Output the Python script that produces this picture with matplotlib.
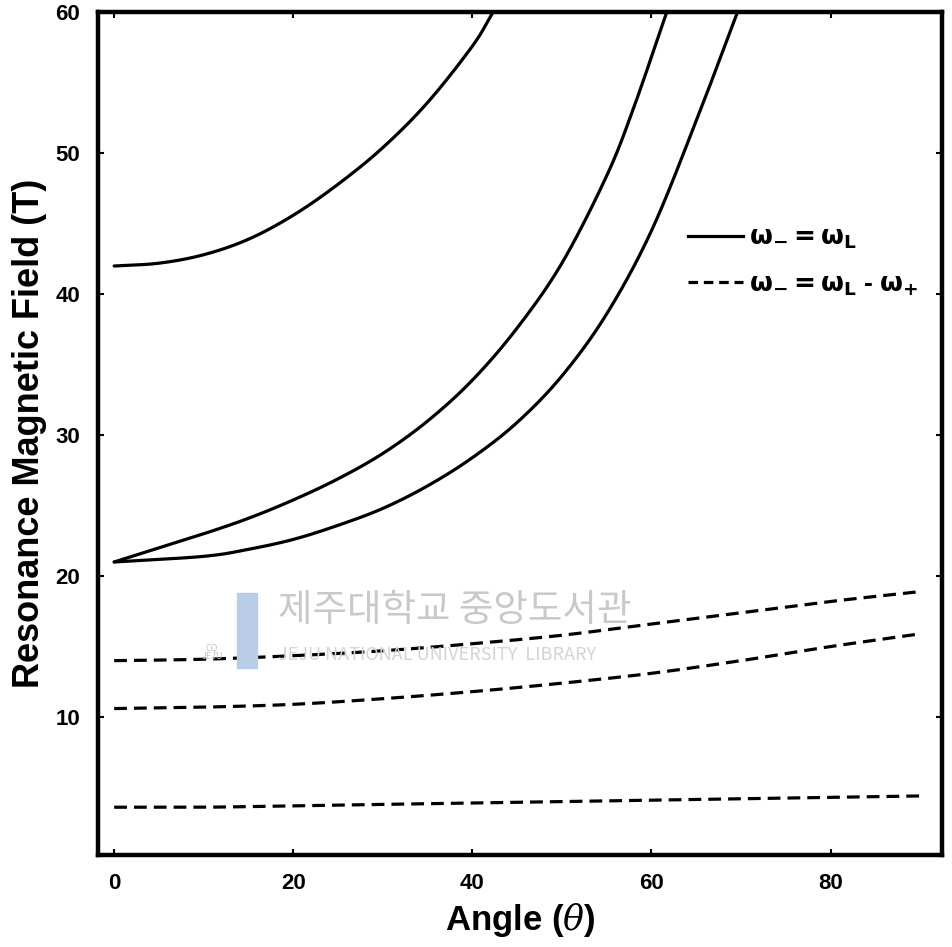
import numpy as np
import matplotlib
matplotlib.use('Agg')
import matplotlib.pyplot as plt
from matplotlib.lines import Line2D

plt.rcParams['font.family'] = ['Liberation Sans', 'DejaVu Sans']
plt.rcParams['font.weight'] = 'bold'
plt.rcParams['mathtext.fontset'] = 'custom'
plt.rcParams['mathtext.rm'] = 'DejaVu Sans:bold'
plt.rcParams['mathtext.bf'] = 'DejaVu Sans:bold'
plt.rcParams['mathtext.it'] = 'DejaVu Serif:italic:normal'

# resonance field (T) against angle (deg)
theta_a = [0, 5, 10, 15, 20, 25, 30, 35, 40, 42.3]
field_a = [42.0, 42.2, 42.8, 43.9, 45.6, 47.8, 50.4, 53.6, 57.6, 60.0]

theta_b = [0, 5, 10, 15, 20, 25, 30, 35, 40, 45, 50, 55, 58, 61.7]
field_b = [21.0, 22.0, 23.0, 24.1, 25.4, 26.9, 28.7, 31.0, 33.9, 37.6, 42.2,
           48.4, 53.2, 60.0]

theta_c = [0, 10, 15, 20, 25, 30, 35, 40, 45, 50, 55, 60, 65, 69.6]
field_c = [21.0, 21.4, 21.9, 22.6, 23.6, 24.8, 26.4, 28.4, 30.9, 34.2, 38.6,
           44.5, 52.3, 60.0]

theta_d = [0, 10, 20, 30, 40, 50, 60, 70, 80, 90]
field_d1 = [14.0, 14.1, 14.35, 14.7, 15.2, 15.8, 16.6, 17.4, 18.2, 18.9]
field_d2 = [10.6, 10.7, 10.9, 11.3, 11.8, 12.4, 13.1, 14.0, 15.0, 15.9]
field_d3 = [3.6, 3.6, 3.7, 3.8, 3.9, 4.0, 4.1, 4.2, 4.3, 4.4]

xticks = [0, 20, 40, 60, 80]
yticks = [10, 20, 30, 40, 50, 60]


def spline(x, y, n=30):
    # Catmull-Rom pass through the points so the steep ends stay smooth
    x = np.asarray(x, float)
    y = np.asarray(y, float)
    px = np.r_[2 * x[0] - x[1], x, 2 * x[-1] - x[-2]]
    py = np.r_[2 * y[0] - y[1], y, 2 * y[-1] - y[-2]]
    t = np.linspace(0, 1, n, endpoint=False)[:, None]
    xs, ys = [], []
    for i in range(1, len(px) - 2):
        for p, out in ((px, xs), (py, ys)):
            p0, p1, p2, p3 = p[i - 1:i + 3]
            out.append((0.5 * (2 * p1 + (-p0 + p2) * t
                               + (2 * p0 - 5 * p1 + 4 * p2 - p3) * t ** 2
                               + (-p0 + 3 * p1 - 3 * p2 + p3) * t ** 3)).ravel())
    return np.r_[np.concatenate(xs), x[-1]], np.r_[np.concatenate(ys), y[-1]]


fig = plt.figure(figsize=(9.52, 9.47), dpi=100)
ax = fig.add_axes([0.103, 0.097, 0.887, 0.890])

for t, f in [(theta_a, field_a), (theta_b, field_b), (theta_c, field_c)]:
    xs, ys = spline(t, f)
    ax.plot(xs, ys, color='black', lw=2.3, solid_capstyle='round', zorder=3)

for f in [field_d1, field_d2, field_d3]:
    xs, ys = spline(theta_d, f)
    ax.plot(xs, ys, color='black', lw=2.3, dashes=(4, 2.2), zorder=3)

ax.set_xlim(-1.8, 92.5)
ax.set_ylim(0.2, 60)
ax.set_xticks(xticks)
ax.set_yticks(yticks)
ax.tick_params(direction='in', length=4, width=1.5, top=True, right=True,
               labelsize=16, pad=13)
for sp in ax.spines.values():
    sp.set_linewidth(3.2)

ax.set_xlabel(r'Angle ($\it{\theta}$)', fontsize=25, fontweight='bold',
              labelpad=5)
ax.set_ylabel('Resonance Magnetic Field (T)', fontsize=26, fontweight='bold',
              labelpad=6)

handles = [Line2D([], [], color='black', lw=2.3),
           Line2D([], [], color='black', lw=2.3, dashes=(3, 1.8))]
labels = [r'$\mathbf{\omega_{-} = \omega_{L}}$',
          r'$\mathbf{\omega_{-} = \omega_{L}}$ - $\mathbf{\omega_{+}}$']
ax.legend(handles, labels, loc='upper left', bbox_to_anchor=(0.686, 0.759),
          frameon=False, fontsize=19, handlelength=2.1, handletextpad=0.2,
          labelspacing=0.8, borderaxespad=0)

# library watermark
fig.text(278 / 952, 1 - 610 / 947, '제주대학교 중앙도서관', fontsize=27,
         family=['Noto Sans CJK KR'], fontweight='normal', color='#c9c9c9',
         va='center', ha='left', zorder=1)
fig.text(278 / 952, 1 - 655 / 947, 'JEJU NATIONAL UNIVERSITY  LIBRARY',
         fontsize=13, family=['Noto Sans CJK KR'], fontweight='normal',
         color='#d4d4d4', va='center', ha='left', zorder=1)
fig.text(212 / 952, 1 - 652 / 947, 'CQ\nJEJU', fontsize=6.5, ha='center',
         va='center', color='#c4c4c4', family=['Noto Sans CJK KR'],
         fontweight='normal', linespacing=1.0, zorder=1)
fig.patches.append(plt.Rectangle((237 / 952, 1 - 668 / 947), 20 / 952, 75 / 947,
                                 transform=fig.transFigure, color='#b9cde6',
                                 zorder=0))
s = np.linspace(0, 1, 50)
fig.add_artist(Line2D((190 + 25 * np.sin(s * 3.0)) / 952,
                      1 - (570 + 95 * s) / 947, color='#bfe0ef', lw=5,
                      transform=fig.transFigure, zorder=0))
fig.add_artist(Line2D((205 + 20 * np.sin(s * 3.0)) / 952,
                      1 - (565 + 90 * s) / 947, color='#d3e7c6', lw=4,
                      transform=fig.transFigure, zorder=0))

fig.savefig('out.png', dpi=100)
